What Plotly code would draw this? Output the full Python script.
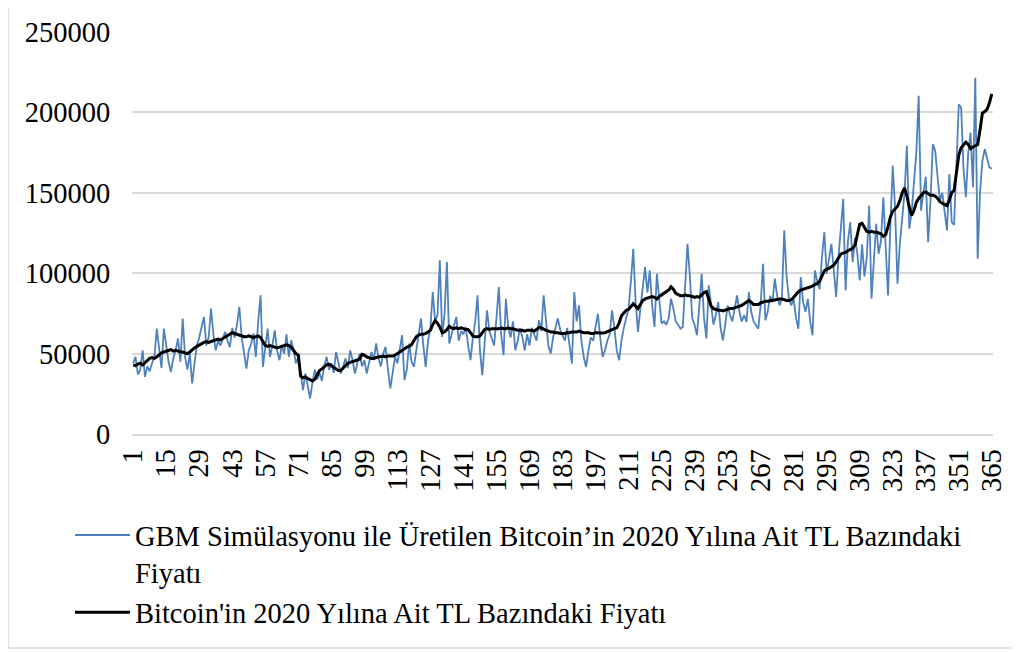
import plotly.graph_objects as go

days = list(range(1, 366))
tick_days = list(range(1, 366, 14))
tick_labels = [str(d) for d in tick_days]
y_ticks = [0, 50000, 100000, 150000, 200000, 250000]

gbm_name = "GBM Simülasyonu ile Üretilen Bitcoin’in 2020 Yılına Ait TL Bazındaki<br>Fiyatı"
real_name = "Bitcoin'in 2020 Yılına Ait TL Bazındaki Fiyatı"

gbm_price = [
    44000, 48000, 37000, 40000, 52000, 35500, 42000, 39000, 44000, 48000,
    65500, 54000, 41000, 65500, 55000, 45000, 38600, 47000, 52000, 59400,
    45000, 71800, 48000, 40000, 50000, 31400, 44000, 55000, 60000, 66000,
    72800, 55000, 60000, 78000, 62000, 52000, 58000, 55000, 60000, 63500,
    58000, 54000, 66000, 60000, 68000, 79000, 60000, 50000, 40700, 52000,
    56000, 62500, 48000, 70000, 86200, 41700, 52000, 65500, 48000, 55000,
    64500, 52000, 45900, 55000, 50000, 62000, 48000, 58300, 52000, 44000,
    48000, 38000, 27300, 37600, 30000, 22100, 32000, 40000, 34000, 38000,
    33000, 42000, 48000, 40000, 44000, 38000, 51000, 44000, 37600, 42000,
    47000, 41000, 52000, 46000, 37600, 44000, 50000, 42000, 46000, 37600,
    44000, 51000, 46000, 56300, 47000, 42000, 50000, 54200, 40000, 28300,
    38000, 48000, 44000, 54000, 61400, 33500, 40000, 56300, 45000, 41700,
    52000, 60000, 71800, 55000, 41700, 58000, 66000, 88300, 70000, 74000,
    108000, 60400, 75000, 106900, 56300, 62000, 68000, 72800, 58000, 64000,
    62000, 66600, 55000, 45900, 60000, 70000, 86200, 52000, 36600, 58000,
    76900, 64000, 60000, 55000, 72000, 91400, 62000, 49000, 84100, 66000,
    60000, 70000, 52000, 58000, 66000, 60000, 52000, 62000, 55000, 66000,
    62000, 58000, 70700, 64000, 86200, 68700, 55000, 50000, 60000, 66000,
    71800, 65000, 61400, 58000, 66000, 56000, 43800, 88300, 70000, 80000,
    58000, 48000, 41700, 52000, 60000, 58000, 66000, 74800, 60000, 48000,
    52000, 58000, 62000, 76900, 66000, 52000, 45900, 58000, 66000, 72000,
    78000, 95000, 115200, 82000, 63500, 78000, 90000, 103800, 88000, 101700,
    80000, 66600, 99700, 82000, 68700, 70000, 68000, 72000, 84100, 78000,
    70000, 68000, 65500, 66600, 90000, 118300, 98000, 72000, 68000, 61400,
    80000, 99700, 72000, 59400, 92400, 78000, 68000, 74000, 82000, 66000,
    58300, 68000, 80000, 74000, 70000, 78000, 86200, 76000, 70000, 74000,
    69700, 88300, 76000, 70000, 68000, 65500, 80000, 105900, 70700, 76000,
    86000, 82000, 96600, 86000, 80000, 84000, 126500, 98000, 84000, 80000,
    84000, 72000, 65500, 97600, 82000, 76000, 84000, 70000, 61400, 101700,
    95000, 90000, 110000, 125500, 99700, 108000, 118300, 102000, 85200, 110000,
    128000, 146200, 89300, 120000, 131700, 106900, 122000, 112000, 95500, 118000,
    98000, 110000, 142000, 84100, 108000, 130700, 112000, 120000, 147200, 118000,
    86200, 130000, 166900, 140000, 93500, 118000, 132000, 150000, 179300, 127600,
    138000, 155000, 175000, 210300, 138900, 150000, 160000, 119300, 145000, 180300,
    176000, 160000, 145000, 150000, 138000, 126500, 161700, 131700, 130000, 170000,
    205100, 203000, 165000, 147200, 175000, 187500, 153400, 221600, 109000, 150000,
    169900, 177200, 172000, 165800, 165000,
]

real_price = [
    43000, 42500, 43500, 44000, 43000, 44500, 46000, 47000, 47500, 47000,
    48000, 49500, 50500, 51000, 51500, 52000, 52500, 51500, 52000, 51500,
    51000, 51000, 50500, 50000, 51000, 52500, 53500, 54500, 55500, 56000,
    57000, 57500, 57000, 57500, 58000, 58500, 59000, 58500, 59500, 60500,
    61500, 62000, 63000, 62500, 62000, 61500, 61000, 60500, 60500, 61000,
    60500, 60000, 60500, 61000, 60000, 57500, 55000, 54500, 55000, 54500,
    54000, 53500, 54000, 54500, 55000, 55500, 55000, 54000, 52000, 50000,
    49000, 36000, 35000, 35500, 34500, 33500, 33000, 34000, 37000, 39500,
    40500, 42000, 43000, 43500, 42500, 41500, 40500, 39500, 39500, 41000,
    42500, 44000, 44500, 45000, 45500, 46000, 46500, 49500, 49000, 48000,
    47500, 47000, 47000, 47500, 48000, 48000, 48500, 48000, 48500, 48500,
    48500, 49000, 50000, 51000, 52500, 53500, 54000, 54500, 55500, 58000,
    60500, 61500, 62000, 62000, 62500, 63500, 64500, 68000, 70500, 69000,
    66500, 63000, 63500, 65000, 67000, 66000, 65500, 66000, 65500, 66000,
    65500, 65000, 65000, 63000, 61000, 60500, 60500, 61000, 63000, 65000,
    65500, 65000, 65500, 65500, 65500, 65500, 66000, 65500, 65500, 66000,
    65500, 65500, 65000, 64500, 64500, 64500, 64000, 64500, 64500, 64500,
    64000, 65000, 66000, 66000, 65000, 64500, 64000, 63500, 63500, 63000,
    63000, 62500, 62500, 62500, 63000, 63000, 63500, 63500, 63500, 64000,
    63500, 63000, 63000, 63000, 62500, 62500, 63000, 62800, 63000, 62800,
    63000, 63500, 64000, 64500, 65500, 66000, 69000, 73500, 75500, 77000,
    77500, 79500, 81000, 79500, 78000, 80500, 83000, 84000, 84500, 85000,
    85500, 85000, 84000, 85500, 86500, 87000, 88000, 89500, 91500, 90000,
    87500, 86500, 86000, 86000, 86500, 86000, 86000, 85500, 85000, 85500,
    85000, 86500, 88000, 88500, 84000, 79500, 78000, 77500, 77000, 77000,
    76500, 77000, 77500, 78000, 78000, 78500, 79000, 79500, 80000, 81000,
    82000, 83000, 82000, 80500, 80500, 80500, 81500, 82000, 82500, 82500,
    82800, 83000, 83500, 84000, 84000, 84000, 83500, 83000, 83000, 83500,
    85000, 87000, 88500, 89500, 90000, 90500, 91000, 91500, 92000, 93000,
    93500, 95000, 98000, 101500, 102500, 103000, 104000, 105000, 107000, 109500,
    112000, 112500, 113000, 114000, 114500, 115500, 117500, 124000, 130500, 131000,
    128500, 126000, 125500, 126000, 125500, 125500, 125000, 124500, 123000, 124000,
    129000, 135000, 138500, 140000, 141500, 145000, 150000, 153000, 148000, 141000,
    136000, 139000, 144000, 146500, 148000, 150000, 150500, 149500, 148500, 148500,
    148000, 146500, 144500, 143500, 143000, 142000, 145500, 150000, 151500, 163000,
    173500, 178000, 179500, 181500, 180000, 177500, 178500, 179500, 180000, 189000,
    199500, 200500, 202000, 206000, 211500,
]

assert len(gbm_price) == 365, len(gbm_price)
assert len(real_price) == 365, len(real_price)

FONT = "Liberation Serif, Times New Roman, serif"
GRID = "#d9d9d9"
FS = 28.5
OFF = 8  # default page body margin

fig = go.Figure()
fig.add_trace(go.Scatter(x=days, y=gbm_price, mode="lines", name=gbm_name,
                         line=dict(color="#4F81BD", width=1.8)))
fig.add_trace(go.Scatter(x=days, y=real_price, mode="lines", name=real_name,
                         line=dict(color="#000000", width=3)))

W, H = 1019 - OFF, 652 - OFF
L, T = 132 - OFF, 32 - OFF
pw, ph = 861, 402
R, B = W - L - pw, H - T - ph

def px(xabs):
    return (xabs - OFF - L) / pw

def py(yabs):
    return (T + ph - (yabs - OFF)) / ph

fig.update_layout(
    width=W, height=H,
    margin=dict(l=L, r=R, t=T, b=B, pad=0, autoexpand=False),
    paper_bgcolor="white", plot_bgcolor="white",
    font=dict(family=FONT, size=FS, color="#000000"),
    showlegend=True,
    legend=dict(
        x=px(70), y=py(510), xanchor="left", yanchor="top",
        font=dict(family=FONT, size=FS, color="#000000"),
        valign="top", tracegroupgap=0, itemwidth=55,
        bgcolor="rgba(0,0,0,0)",
    ),
    xaxis=dict(
        range=[0.5, 365.5], tickmode="array", tickvals=tick_days, ticktext=tick_labels,
        tickangle=-90, showgrid=False, zeroline=False, automargin=False,
        showline=True, linecolor=GRID, linewidth=1.5,
        ticks="outside", ticklen=2, tickcolor="rgba(0,0,0,0)",
        tickfont=dict(family=FONT, size=FS),
    ),
    yaxis=dict(
        range=[0, 250000], tickmode="array", tickvals=y_ticks,
        ticktext=[str(v) for v in y_ticks], automargin=False,
        showgrid=True, gridcolor=GRID, gridwidth=1.5, zeroline=False,
        showline=False, ticks="outside", ticklen=15, tickcolor="rgba(0,0,0,0)",
        tickfont=dict(family=FONT, size=FS),
    ),
    shapes=[dict(
        type="rect", xref="paper", yref="paper",
        x0=px(8), x1=px(1012), y0=py(648), y1=py(5),
        line=dict(color=GRID, width=1.5), fillcolor="rgba(0,0,0,0)", layer="below",
    )],
)

fig.write_html("out.html")
